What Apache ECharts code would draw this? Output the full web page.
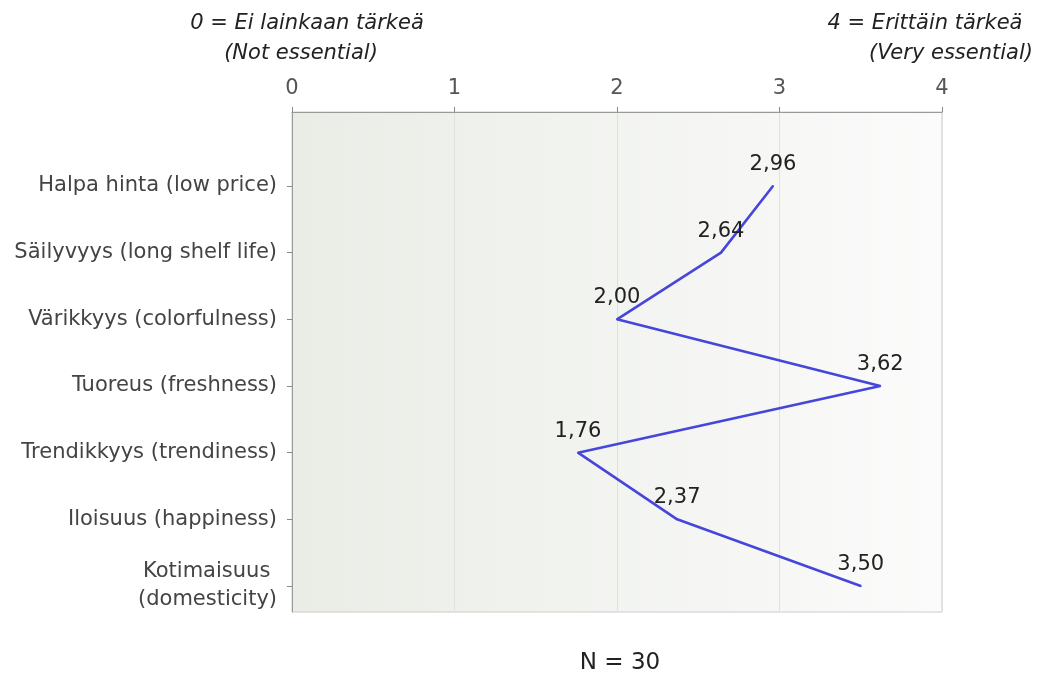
<!DOCTYPE html>
<html>
<head>
<meta charset="utf-8">
<script src="https://cdn.jsdelivr.net/npm/echarts@6/dist/echarts.min.js"></script>
<style>
  html, body { margin: 0; padding: 0; background: #ffffff; }
  #chart { width: 1052px; height: 678px; }
</style>
</head>
<body>
<div id="chart"></div>
<script>
// Importance ratings (mean score, 0–4 scale), one per attribute
const categories = [
  'Halpa hinta (low price)',
  'Säilyvyys (long shelf life)',
  'Värikkyys (colorfulness)',
  'Tuoreus (freshness)',
  'Trendikkyys (trendiness)',
  'Iloisuus (happiness)',
  'Kotimaisuus \n(domesticity)'
];
const meanScores = [2.96, 2.64, 2.00, 3.62, 1.76, 2.37, 3.50];
const scaleTicks = [0, 1, 2, 3, 4];
const scaleLowText = ['0 = Ei lainkaan tärkeä', '(Not essential)'];
const scaleHighText = ['4 = Erittäin tärkeä', '(Very essential)'];
const footnote = 'N = 30';

const FONT = '"DejaVu Sans", "Liberation Sans", Arial, sans-serif';
const rowIndex = categories.map((_, i) => i);
const points = meanScores.map((v, i) => [v, i]);
const fmt = v => v.toFixed(2).replace('.', ',');

const italicTitle = { fontFamily: FONT, fontSize: 21, fontStyle: 'italic', fontWeight: 'normal', color: '#222' };

const chart = echarts.init(document.getElementById('chart'), null, { renderer: 'canvas' });

chart.setOption({
  animation: false,
  backgroundColor: '#ffffff',
  textStyle: { fontFamily: FONT },
  title: [
    { text: scaleLowText[0], left: 302, top: 8, textAlign: 'center', textStyle: italicTitle },
    { text: scaleLowText[1], left: 296, top: 38, textAlign: 'center', textStyle: italicTitle },
    { text: scaleHighText[0], left: 920, top: 8, textAlign: 'center', textStyle: italicTitle },
    { text: scaleHighText[1], left: 946, top: 38, textAlign: 'center', textStyle: italicTitle },
    { text: footnote, left: 615, top: 647, textAlign: 'center',
      textStyle: { fontFamily: FONT, fontSize: 23, fontWeight: 'normal', color: '#222' } }
  ],
  grid: {
    left: 292, right: 110, top: 112, bottom: 66,
    show: true,
    backgroundColor: new echarts.graphic.LinearGradient(0, 0, 1, 0, [
      { offset: 0, color: '#eaede6' },
      { offset: 1, color: '#fbfbfb' }
    ]),
    borderColor: '#cccccc',
    borderWidth: 1
  },
  xAxis: {
    type: 'value',
    position: 'top',
    min: 0, max: 4, interval: 1,
    axisLine: { show: true, onZero: false, lineStyle: { color: '#999999', width: 1 } },
    axisTick: { show: true, length: 5, lineStyle: { color: '#888888' } },
    axisLabel: { fontFamily: FONT, fontSize: 21, color: '#555', margin: 13,
      customValues: scaleTicks },
    splitLine: { show: true, lineStyle: { color: '#e0e0e0', width: 1 } }
  },
  yAxis: {
    type: 'value',
    inverse: true,
    min: -1.11, max: 6.39,
    axisLine: { show: true, onZero: false, lineStyle: { color: '#999999', width: 1 } },
    axisTick: { show: true, length: 5, lineStyle: { color: '#888888' }, customValues: rowIndex },
    axisLabel: {
      fontFamily: FONT, fontSize: 21, color: '#444', margin: 15, lineHeight: 28,
      customValues: rowIndex,
      formatter: v => categories[Math.round(v)] || ''
    },
    splitLine: { show: false }
  },
  series: [{
    type: 'line',
    data: points,
    symbol: 'circle',
    symbolSize: 2,
    showSymbol: true,
    itemStyle: { color: '#4646da' },
    lineStyle: { color: '#4646da', width: 2.6 },
    label: {
      show: true,
      position: 'top',
      distance: 10,
      fontFamily: FONT,
      fontSize: 21,
      color: '#222',
      formatter: p => fmt(p.value[0])
    },
    z: 5
  }]
});
</script>
</body>
</html>
